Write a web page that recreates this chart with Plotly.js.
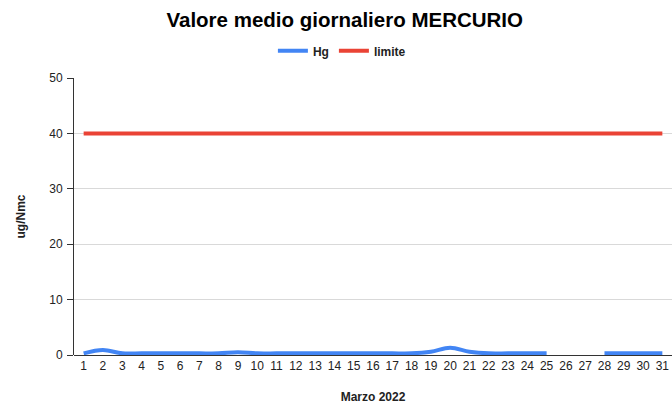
<!DOCTYPE html>
<html>
<head>
<meta charset="utf-8">
<script src="https://cdn.plot.ly/plotly-3.0.1.min.js"></script>
<style>html,body{margin:0;padding:0;background:#fff;}#chart{width:672px;height:405px;}</style>
</head>
<body>
<div id="chart"></div>
<script>
const days = [1,2,3,4,5,6,7,8,9,10,11,12,13,14,15,16,17,18,19,20,21,22,23,24,25,26,27,28,29,30,31];
const hg = [0.3,0.9,0.3,0.3,0.3,0.3,0.3,0.3,0.5,0.3,0.3,0.3,0.3,0.3,0.3,0.3,0.3,0.3,0.6,1.3,0.6,0.3,0.3,0.3,0.3,null,null,0.3,0.3,0.3,0.3];
const limite = [40,40,40,40,40,40,40,40,40,40,40,40,40,40,40,40,40,40,40,40,40,40,40,40,40,40,40,40,40,40,40];

const FONT = 'Liberation Sans, Arial, sans-serif';

const traces = [
  {x: days, y: hg, name: 'Hg', type: 'scatter', mode: 'lines',
   line: {color: '#4285F4', width: 4, shape: 'spline', smoothing: 1}, connectgaps: false},
  {x: days, y: limite, name: 'limite', type: 'scatter', mode: 'lines',
   line: {color: '#EA4335', width: 4}}
];

const layout = {
  width: 672, height: 405,
  margin: {l: 74, r: 0, t: 78, b: 50},
  paper_bgcolor: '#fff', plot_bgcolor: '#fff',
  font: {family: FONT, size: 12, color: '#222'},
  title: {text: '<b>Valore medio giornaliero MERCURIO</b>', font: {family: FONT, size: 20.5, color: '#000'},
          x: 0.513, xanchor: 'center', y: 0.951, yanchor: 'middle'},
  showlegend: true,
  legend: {orientation: 'h', x: 0.448, xanchor: 'center', y: 1.098, yanchor: 'middle',
           font: {family: FONT, size: 12, color: '#222', weight: 'bold'}, itemwidth: 30, traceorder: 'normal'},
  xaxis: {range: [0.5, 31.5], tickmode: 'array', tickvals: days, ticktext: days.map(String),
          showgrid: false, zeroline: false, showline: false, ticks: '', ticklabelstandoff: 2,
          tickfont: {family: FONT, size: 12, color: '#222'},
          title: {text: '<b>Marzo 2022</b>', font: {family: FONT, size: 12, color: '#222'}, standoff: 20}},
  yaxis: {range: [0, 50], tickvals: [0,10,20,30,40,50], showgrid: true, gridcolor: '#d9d9d9', gridwidth: 1,
          zeroline: true, zerolinecolor: '#333', zerolinewidth: 1,
          showline: true, linecolor: '#333', linewidth: 1, ticks: 'outside', ticklen: 6, tickcolor: '#333',
          ticklabelstandoff: 2,
          tickfont: {family: FONT, size: 12, color: '#222'},
          title: {text: '<b>ug/Nmc</b>', font: {family: FONT, size: 12, color: '#222'}, standoff: 21}}
};

Plotly.newPlot('chart', traces, layout, {displayModeBar: false, staticPlot: true});
</script>
</body>
</html>
